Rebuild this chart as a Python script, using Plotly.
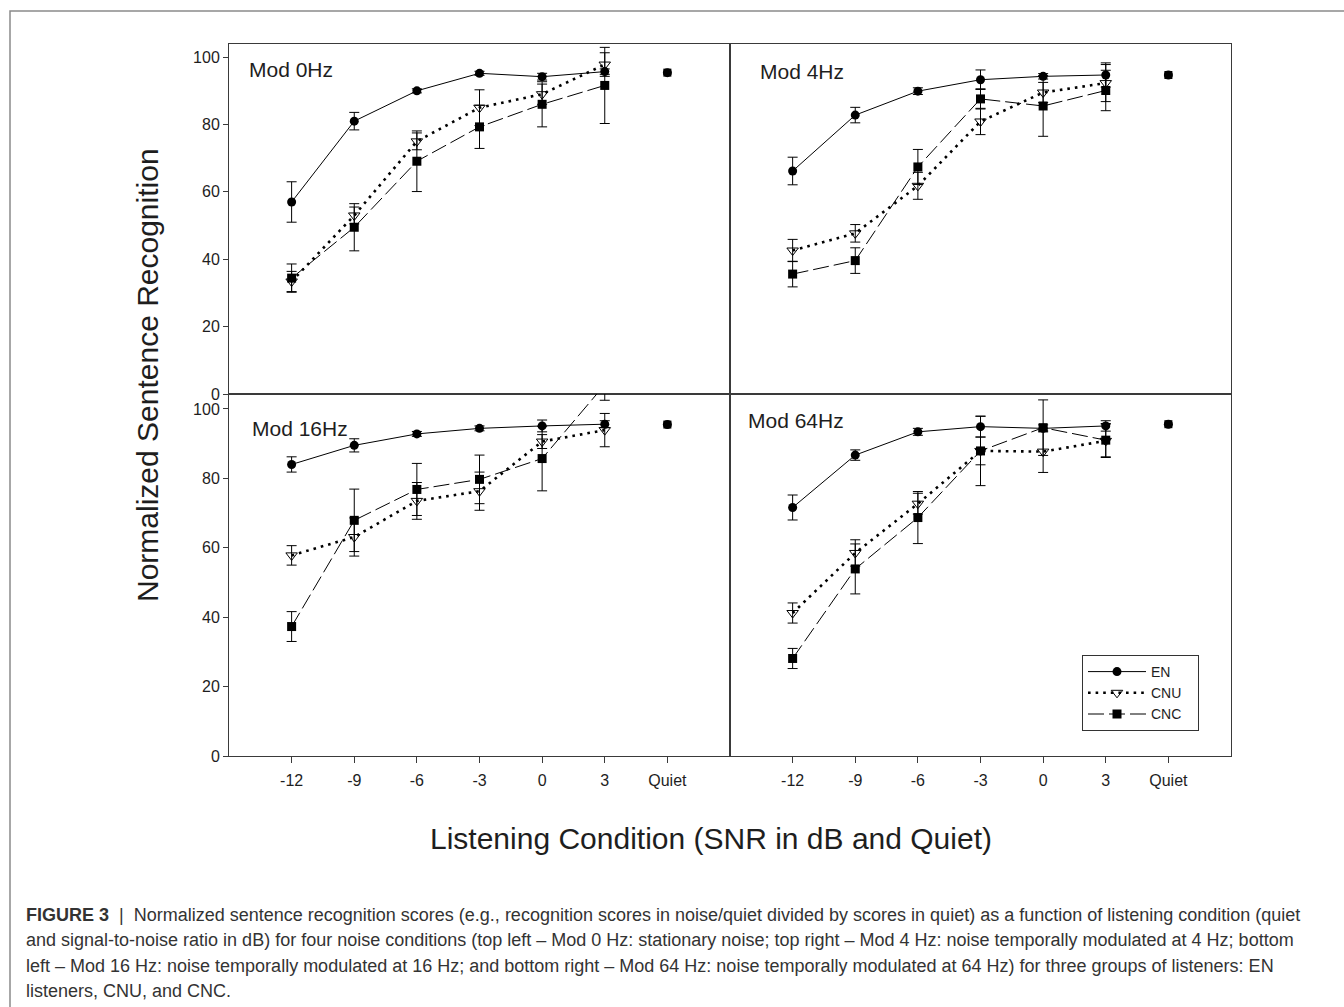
import plotly.graph_objects as go

W, H = 1344, 1007
HE = 998  # effective vertical pixel scale observed in rendering

categories = ["-12", "-9", "-6", "-3", "0", "3", "Quiet"]
panel_names = ["Mod 0Hz", "Mod 4Hz", "Mod 16Hz", "Mod 64Hz"]
group_names = ["EN", "CNU", "CNC"]

# Mod 0Hz (top left)
en_0 = [57, 81, 90, 95.2, 94.2, 95.7]
en_0_err = [6, 2.6, 0.6, 0.6, 1, 0.8]
cnu_0 = [33.4, 53, 75, 85, 89, 97.8]
cnu_0_err = [3, 2.5, 2.5, 5.3, 3, 3.5]
cnc_0 = [34.4, 49.5, 69.1, 79.3, 86, 91.6]
cnc_0_err = [4.2, 7, 9, 6.4, 6.7, 11.3]
quiet_0 = 95.4

# Mod 4Hz (top right)
en_4 = [66.2, 82.8, 89.9, 93.3, 94.3, 94.7]
en_4_err = [4.1, 2.3, 1, 2.9, 0.8, 3.6]
cnu_4 = [42.6, 47.7, 61.8, 80.9, 89.5, 92.3]
cnu_4_err = [3.3, 2.6, 4, 3.9, 3, 5.5]
cnc_4 = [35.6, 39.6, 67.4, 87.6, 85.5, 90.1]
cnc_4_err = [3.8, 3.8, 5.2, 3, 9, 6]
quiet_4 = 94.7

# Mod 16Hz (bottom left)
en_16 = [84, 89.5, 92.8, 94.4, 95.1, 95.6]
en_16_err = [2.2, 1.9, 0.7, 0.7, 1.7, 1]
cnu_16 = [57.8, 63.1, 73.5, 76.3, 90.6, 93.9]
cnu_16_err = [2.8, 5.5, 5.3, 5.5, 2, 4.8]
cnc_16 = [37.3, 67.9, 76.8, 79.7, 85.7, 107]
cnc_16_err = [4.3, 9, 7.5, 7, 9.3, 4.5]
quiet_16 = 95.5

# Mod 64Hz (bottom right)
en_64 = [71.6, 86.7, 93.4, 94.9, 94.4, 95.1]
en_64_err = [3.6, 1.5, 1, 3, 1, 1.5]
cnu_64 = [41.2, 58.5, 72.7, 87.9, 87.7, 90.8]
cnu_64_err = [2.9, 3.8, 3, 4, 6, 4.8]
cnc_64 = [28.1, 53.9, 68.7, 87.9, 94.6, 91.0]
cnc_64_err = [2.9, 7.2, 7.5, 10, 8, 4.8]
quiet_64 = 95.6

y_ticks = [0, 20, 40, 60, 80, 100]

panels = [
    (en_0, en_0_err, cnu_0, cnu_0_err, cnc_0, cnc_0_err, quiet_0),
    (en_4, en_4_err, cnu_4, cnu_4_err, cnc_4, cnc_4_err, quiet_4),
    (en_16, en_16_err, cnu_16, cnu_16_err, cnc_16, cnc_16_err, quiet_16),
    (en_64, en_64_err, cnu_64, cnu_64_err, cnc_64, cnc_64_err, quiet_64),
]

# pixel geometry of panels: (x0, x1, ytop, ybottom, ymax)
geom = [
    (229, 730, 44, 394, 103.9),
    (730, 1231, 44, 394, 103.9),
    (229, 730, 394, 756, 104.3),
    (730, 1231, 394, 756, 104.3),
]
label_pos = [(247, 69), (758, 72), (250, 428), (746, 420)]

AX = "#3a3a3a"
TXT = "#1e1e1e"
FONT = "Liberation Sans, Arial, sans-serif"


def fy(px):
    return 1 - px / HE


fig = go.Figure()
xs = list(range(6))
pad = "\u00a0\u00a0\u00a0"
for i, (en, ene, cnu, cnue, cnc, cnce, q) in enumerate(panels):
    xa = "x" if i == 0 else f"x{i+1}"
    ya = "y" if i == 0 else f"y{i+1}"
    show = i == 0
    fig.add_trace(go.Scatter(
        x=xs, y=en, xaxis=xa, yaxis=ya, name=group_names[0] + pad, legendgroup="EN", showlegend=show,
        mode="lines+markers", line=dict(color="black", width=1),
        marker=dict(symbol="circle", size=9, color="black"),
        error_y=dict(type="data", array=ene, color="black", thickness=1, width=5)))
    fig.add_trace(go.Scatter(
        x=xs, y=cnu, xaxis=xa, yaxis=ya, name=group_names[1] + pad, legendgroup="CNU", showlegend=show,
        mode="lines+markers", line=dict(color="black", width=2.6, dash="2.6px,5px"),
        marker=dict(symbol="triangle-down-open", size=10, color="black", line=dict(width=1)),
        error_y=dict(type="data", array=cnue, color="black", thickness=1, width=5)))
    fig.add_trace(go.Scatter(
        x=xs, y=cnc, xaxis=xa, yaxis=ya, name=group_names[2] + pad, legendgroup="CNC", showlegend=show,
        mode="lines+markers", line=dict(color="black", width=1, dash="16px,5px"),
        marker=dict(symbol="square", size=9, color="black"),
        error_y=dict(type="data", array=cnce, color="black", thickness=1, width=5)))
    fig.add_trace(go.Scatter(
        x=[6], y=[q], xaxis=xa, yaxis=ya, showlegend=False, mode="markers",
        marker=dict(symbol="circle", size=9, color="black"), hoverinfo="skip"))
    fig.add_trace(go.Scatter(
        x=[6], y=[q], xaxis=xa, yaxis=ya, showlegend=False, mode="markers",
        marker=dict(symbol="square", size=8, color="black"), hoverinfo="skip"))

layout = dict(
    width=W, height=H, margin=dict(l=0, r=0, t=0, b=0),
    paper_bgcolor="white", plot_bgcolor="white",
    font=dict(family=FONT, color=TXT, size=15),
    showlegend=True,
    legend=dict(x=1082 / W, y=fy(655), xanchor="left", yanchor="top",
                bordercolor="#333", borderwidth=1, bgcolor="white",
                font=dict(size=14, family=FONT, color=TXT), itemwidth=58,
                tracegroupgap=0),
)
for i, (x0, x1, yt, yb, ymax) in enumerate(geom):
    sx = "xaxis" if i == 0 else f"xaxis{i+1}"
    sy = "yaxis" if i == 0 else f"yaxis{i+1}"
    ya = "y" if i == 0 else f"y{i+1}"
    xa = "x" if i == 0 else f"x{i+1}"
    bottom = i >= 2
    left = i % 2 == 0
    layout[sx] = dict(
        domain=[x0 / W, x1 / W], anchor=ya, range=[-1, 7],
        tickvals=list(range(7)), ticktext=categories,
        showticklabels=bottom, ticks="outside" if bottom else "", ticklen=6,
        tickcolor=AX, ticklabelstandoff=4,
        showline=True, mirror=True, linecolor=AX, linewidth=1,
        showgrid=False, zeroline=False, fixedrange=True,
        tickfont=dict(size=16, family=FONT, color=TXT))
    layout[sy] = dict(
        domain=[fy(yb), fy(yt)], anchor=xa, range=[0, ymax],
        tickvals=y_ticks, showticklabels=left, ticks="outside" if left else "",
        ticklen=5, tickcolor=AX,
        showline=True, mirror=True, linecolor=AX, linewidth=1,
        showgrid=False, zeroline=False, fixedrange=True,
        tickfont=dict(size=16, family=FONT, color=TXT))
fig.update_layout(**layout)

annotations = []
for name, (px, py) in zip(panel_names, label_pos):
    annotations.append(dict(x=px / W, y=fy(py), xref="paper", yref="paper",
                            text=name, showarrow=False, xanchor="left", yanchor="middle",
                            font=dict(size=21, family=FONT, color=TXT)))
annotations.append(dict(x=147 / W, y=fy(375), xref="paper", yref="paper",
                        text="Normalized Sentence Recognition", showarrow=False,
                        textangle=-90, xanchor="center", yanchor="middle",
                        font=dict(size=30, family=FONT, color=TXT)))
annotations.append(dict(x=711 / W, y=fy(838), xref="paper", yref="paper",
                        text="Listening Condition (SNR in dB and Quiet)", showarrow=False,
                        xanchor="center", yanchor="middle",
                        font=dict(size=30, family=FONT, color=TXT)))

caption_lines = [
    "<b>FIGURE 3</b>  |  Normalized sentence recognition scores (e.g., recognition scores in noise/quiet divided by scores in quiet) as a function of listening condition (quiet",
    "and signal-to-noise ratio in dB) for four noise conditions (top left – Mod 0 Hz: stationary noise; top right – Mod 4 Hz: noise temporally modulated at 4 Hz; bottom",
    "left – Mod 16 Hz: noise temporally modulated at 16 Hz; and bottom right – Mod 64 Hz: noise temporally modulated at 64 Hz) for three groups of listeners: EN",
    "listeners, CNU, and CNC.",
]
caption_y = [915, 940, 966, 991]
for line, cy in zip(caption_lines, caption_y):
    annotations.append(dict(x=24 / W, y=fy(cy), xref="paper", yref="paper",
                            text=line, showarrow=False, xanchor="left", yanchor="middle",
                            font=dict(size=18, family=FONT, color="#333")))
fig.update_layout(annotations=annotations)

fig.add_shape(type="rect", xref="paper", yref="paper",
              x0=10 / W, x1=1.02, y0=-0.02, y1=fy(11),
              line=dict(color="#8a8a8a", width=1.5), layer="below")

fig.write_html("out.html")
